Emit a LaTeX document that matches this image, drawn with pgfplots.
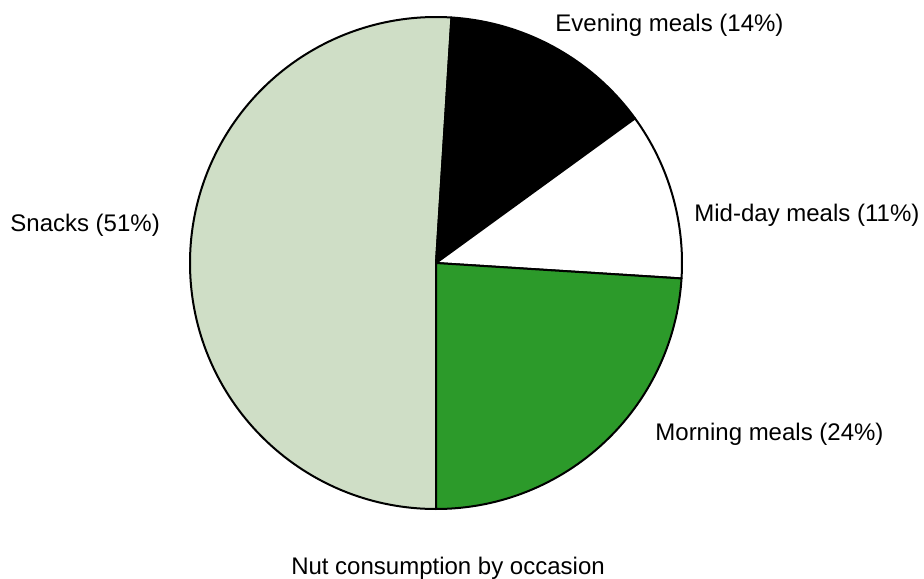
\documentclass[border=0pt]{standalone}
\usepackage{pgfplots}
\pgfplotsset{compat=1.18}
\usepackage{pgfplotstable}
\usepackage{fontspec}
\setmainfont{Liberation Sans}

\definecolor{snackgreen}{HTML}{CFDEC6}
\definecolor{morninggreen}{HTML}{2C9A2A}

% shares in percent, clockwise from the bottom
\pgfplotstableread[col sep=comma]{
occasion,share
Snacks,51
Evening meals,14
Mid-day meals,11
Morning meals,24
}\pietable

\pgfplotstablegetelem{0}{share}\of\pietable \let\shA\pgfplotsretval
\pgfplotstablegetelem{1}{share}\of\pietable \let\shB\pgfplotsretval
\pgfplotstablegetelem{2}{share}\of\pietable \let\shC\pgfplotsretval
\pgfplotstablegetelem{3}{share}\of\pietable \let\shD\pgfplotsretval

% wedge boundaries (degrees), going clockwise from 270
\pgfmathsetmacro\aA{270}
\pgfmathsetmacro\aB{\aA-3.6*\shA}
\pgfmathsetmacro\aC{\aB-3.6*\shB}
\pgfmathsetmacro\aD{\aC-3.6*\shC}
\pgfmathsetmacro\aE{\aD-3.6*\shD}

\def\rad{123pt}

\begin{document}
\begin{tikzpicture}
\begin{axis}[
  x=0.5pt, y=0.5pt,
  xmin=0, xmax=924, ymin=0, ymax=578,
  hide axis, clip=false]

\coordinate (ll) at (axis cs:0,0);
\coordinate (ur) at (axis cs:924,578);
\coordinate (c) at (axis cs:436,315);

\filldraw[fill=snackgreen, draw=black, line width=1pt, line join=round]
  (c) -- ++(\aA:\rad) arc[start angle=\aA, end angle=\aB, radius=\rad] -- cycle;
\filldraw[fill=black, draw=black, line width=1pt, line join=round]
  (c) -- ++(\aB:\rad) arc[start angle=\aB, end angle=\aC, radius=\rad] -- cycle;
\filldraw[fill=white, draw=black, line width=1pt, line join=round]
  (c) -- ++(\aC:\rad) arc[start angle=\aC, end angle=\aD, radius=\rad] -- cycle;
\filldraw[fill=morninggreen, draw=black, line width=1pt, line join=round]
  (c) -- ++(\aD:\rad) arc[start angle=\aD, end angle=\aE, radius=\rad] -- cycle;

\node[anchor=base west, inner sep=0pt, font=\fontsize{12}{14}\selectfont]
  at (axis cs:555,546) {Evening meals (14\%)};
\node[anchor=base west, inner sep=0pt, font=\fontsize{12}{14}\selectfont]
  at (axis cs:694,356) {Mid-day meals (11\%)};
\node[anchor=base west, inner sep=0pt, font=\fontsize{12}{14}\selectfont]
  at (axis cs:655,138) {Morning meals (24\%)};
\node[anchor=base west, inner sep=0pt, font=\fontsize{12}{14}\selectfont]
  at (axis cs:10,346) {Snacks (51\%)};
\node[anchor=base, inner sep=0pt, font=\fontsize{12}{14}\selectfont]
  at (axis cs:448,4) {Nut consumption by occasion};
\end{axis}
\pgfresetboundingbox
\path[use as bounding box] (ll) rectangle (ur);
\end{tikzpicture}
\end{document}
